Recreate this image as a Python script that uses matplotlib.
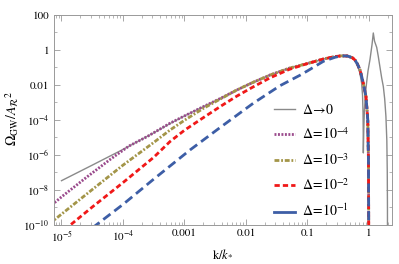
import numpy as np
import matplotlib
matplotlib.use("Agg")
import matplotlib.pyplot as plt
from matplotlib.lines import Line2D
from matplotlib.ticker import FixedLocator, NullFormatter

plt.rcParams['font.family'] = ['STIXGeneral', 'DejaVu Serif']
plt.rcParams['mathtext.fontset'] = 'stix'
plt.rcParams['lines.scale_dashes'] = False

# curves, as (log10 k, log10 Omega) pairs

# common branch (once every finite-width curve has joined the envelope)
shared_logk = [-3.236, -3.0, -2.694, -2.4, -2.151, -1.9, -1.61, -1.3, -1.0, -0.74,
               -0.55, -0.45, -0.35, -0.27, -0.228, -0.19, -0.146, -0.093, -0.049,
               -0.02, -0.008, -0.003]
shared_logo = [-4.20, -3.78, -3.25, -2.75, -2.30, -1.88, -1.44, -1.05, -0.78, -0.52,
               -0.38, -0.34, -0.35, -0.45, -0.58, -0.80, -1.15, -1.91, -2.68,
               -4.0, -6.5, -12.0]

# Delta -> 0
gray_logk = [-5.0, -4.5, -4.0, -3.5, -3.236, -3.0, -2.694, -2.4, -2.151, -1.9, -1.61,
             -1.3, -1.0, -0.74, -0.55, -0.45, -0.35, -0.27, -0.228, -0.19, -0.15,
             -0.12, -0.105, -0.097, -0.093, -0.092, -0.085, -0.075, -0.06, -0.04,
             -0.016, 0.016, 0.049, 0.07, 0.09, 0.125, 0.15, 0.179, 0.206, 0.233,
             0.255, 0.275, 0.29, 0.297, 0.3, 0.301]
gray_logo = [-7.49, -6.6, -5.7, -4.75, -4.22, -3.78, -3.25, -2.75, -2.30, -1.88, -1.44,
             -1.05, -0.78, -0.52, -0.38, -0.34, -0.35, -0.45, -0.60, -0.85, -1.3,
             -1.9, -2.6, -3.6, -5.0, -5.9, -4.6, -3.5, -2.6, -1.9,
             -1.2, -0.55, 0.3, 0.97, 0.5, 0.15, -0.35, -1.0, -1.6, -2.1,
             -2.8, -3.8, -5.2, -7.0, -9.0, -12.0]

# low-k parts of the finite-width curves
d4_logk = [-5.2, -5.0, -4.58, -4.2, -3.9, -3.6]
d4_logo = [-9.0, -8.42, -7.26, -6.25, -5.5, -4.95]

d3_logk = [-5.2, -4.5, -4.0, -3.5, -3.236, -3.0, -2.694, -2.4]
d3_logo = [-9.97, -8.0, -6.6, -5.3, -4.59, -4.03, -3.35, -2.78]

d2_logk = [-4.95, -4.5, -4.0, -3.5, -3.236, -3.0, -2.694, -2.4, -2.151, -1.9, -1.61, -1.3]
d2_logo = [-10.3, -9.0, -7.6, -6.15, -5.25, -4.6, -3.88, -3.2, -2.65, -2.15, -1.6, -1.12]

d1_logk = [-4.5, -4.0, -3.5, -2.91, -2.423, -1.88, -1.447, -1.122, -1.0, -0.74, -0.55]
d1_logo = [-10.2, -8.85, -7.4, -5.73, -4.45, -3.05, -2.05, -1.45, -1.2, -0.65, -0.42]

labels = [r'$\Delta\!\rightarrow\!0$', r'$\Delta\!=\!10^{-4}$', r'$\Delta\!=\!10^{-3}$',
          r'$\Delta\!=\!10^{-2}$', r'$\Delta\!=\!10^{-1}$']

xticks = [1e-5, 1e-4, 1e-3, 1e-2, 1e-1, 1]
xticklabels = [r'$10^{-5}$', r'$10^{-4}$', '0.001', '0.01', '0.1', '1']
yticks = [1e-10, 1e-8, 1e-6, 1e-4, 1e-2, 1, 100]
yticklabels = [r'$10^{-10}$', r'$10^{-8}$', r'$10^{-6}$', r'$10^{-4}$', '0.01', '1', '100']


def join(lk, lo):
    # own low-k part, then the common branch beyond its last point
    k = list(lk) + [a for a in shared_logk if a > lk[-1]]
    o = list(lo) + [b for a, b in zip(shared_logk, shared_logo) if a > lk[-1]]
    return 10.0 ** np.array(k), 10.0 ** np.array(o)


fig = plt.figure(figsize=(3.99, 2.64), dpi=100)
ax = fig.add_axes([53.5 / 399, 1 - 224.5 / 264, (392 - 53.5) / 399, (224.5 - 15) / 264])

h0, = ax.plot(10.0 ** np.array(gray_logk), 10.0 ** np.array(gray_logo), color='#8a8a8a',
              lw=1.0)
k, o = join(d4_logk, d4_logo)
h1, = ax.plot(k, o, color='#9a4a8c', lw=2.0, dashes=(1.4, 1.1))
k, o = join(d3_logk, d3_logo)
h2, = ax.plot(k, o, color='#a39548', lw=2.0, dashes=(3.5, 1.3, 1.3, 1.3))
k, o = join(d2_logk, d2_logo)
h3, = ax.plot(k, o, color='#f01818', lw=2.0, dashes=(3.8, 2.2))
k, o = join(d1_logk, d1_logo)
ax.plot(k, o, color='#3d5ea6', lw=2.0, dashes=(6.5, 3.5))
# the long blue dash shows as a full stroke in the short legend sample
h4 = Line2D([], [], color='#3d5ea6', lw=2.0)

ax.set_xscale('log')
ax.set_yscale('log')
ax.set_xlim(10 ** -5.13, 10 ** 0.374)
ax.set_ylim(1e-10, 100)

ax.xaxis.set_major_locator(FixedLocator(xticks))
ax.set_xticklabels(xticklabels)
xminor = [m * 10.0 ** e for e in range(-6, 1) for m in range(2, 10)]
ax.xaxis.set_minor_locator(FixedLocator(xminor))
ax.xaxis.set_minor_formatter(NullFormatter())
ax.yaxis.set_major_locator(FixedLocator(yticks))
ax.set_yticklabels(yticklabels)
ax.yaxis.set_minor_locator(FixedLocator([10.0 ** e for e in range(-9, 2, 2)]))
ax.yaxis.set_minor_formatter(NullFormatter())

for s in ax.spines.values():
    s.set_color('#999999')
    s.set_linewidth(0.7)
ax.tick_params(which='both', direction='in', top=True, right=True, color='#999999',
               labelsize=8, pad=3)
ax.tick_params(which='major', length=4, width=0.6)
ax.tick_params(which='minor', length=2, width=0.5)

fig.text(12 / 399, 1 - 118 / 264, r'$\Omega_{\rm GW}/A_{\mathcal{R}}{}^{2}$', rotation=90,
         ha='center', va='center', fontsize=10)
fig.text(222.7 / 399, 1 - 255 / 264, r'$\mathrm{k}/k_{*}$', ha='center', va='center',
         fontsize=9)

ax.legend([h0, h1, h2, h3, h4], labels, loc='center left',
          bbox_to_anchor=(274 / 399, 1 - 161 / 264),
          bbox_transform=fig.transFigure, frameon=False, fontsize=10,
          handlelength=1.5, handletextpad=0.55, labelspacing=0.7, borderpad=0,
          borderaxespad=0)

fig.savefig('out.png', dpi=100)
